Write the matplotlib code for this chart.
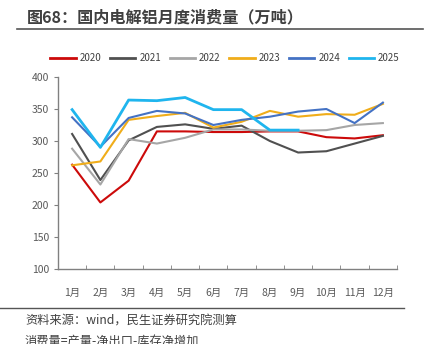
import numpy as np
import matplotlib.pyplot as plt
from matplotlib.lines import Line2D

plt.rcParams['font.family'] = ['Noto Sans CJK SC', 'DejaVu Sans']

months = ['1月', '2月', '3月', '4月', '5月', '6月', '7月', '8月', '9月', '10月', '11月', '12月']
years = ['2020', '2021', '2022', '2023', '2024', '2025']

v2020 = [263, 204, 238, 315, 315, 314, 314, 315, 315, 306, 304, 309]
v2021 = [311, 239, 301, 322, 326, 319, 324, 300, 282, 284, 296, 308]
v2022 = [288, 232, 303, 296, 305, 318, 318, 316, 316, 317, 325, 328]
v2023 = [262, 268, 333, 339, 344, 321, 330, 347, 338, 342, 341, 358]
v2024 = [337, 291, 336, 347, 343, 325, 333, 338, 346, 350, 328, 360]
v2025 = [349, 290, 364, 363, 368, 349, 349, 317, 317]

series = [v2020, v2021, v2022, v2023, v2024, v2025]
colors = ['#cc0a0a', '#505050', '#a6a6a6', '#f0ad1a', '#4472c4', '#1fb5ee']
widths = [1.5, 1.5, 1.5, 1.5, 1.5, 2.0]

fig = plt.figure(figsize=(4.41, 3.44), dpi=100)
ax = fig.add_axes([58 / 441, 1 - 269 / 344, 339 / 441, 192 / 344])

x = np.arange(12)
for vals, c, w, lab in zip(series, colors, widths, years):
    ax.plot(x[:len(vals)], vals, color=c, lw=w, label=lab, zorder=3)

ax.set_xlim(-0.5, 11.5)
ax.set_ylim(100, 400)
ax.set_yticks(np.arange(100, 401, 50))
ax.set_xticks(x)
ax.set_xticklabels(months)
ax.set_xticks(np.arange(-0.5, 12, 1), minor=True)
ax.tick_params(axis='x', which='major', length=0, pad=14, labelsize=7.5, colors='#595959')
ax.tick_params(axis='x', which='minor', length=3, direction='in', color='#808080')
ax.tick_params(axis='y', length=3, direction='out', labelsize=7.5, colors='#595959', color='#808080')
for s in ['top', 'right']:
    ax.spines[s].set_visible(False)
for s in ['left', 'bottom']:
    ax.spines[s].set_color('#808080')
    ax.spines[s].set_linewidth(1.0)

handles = [Line2D([0], [0], color=c, lw=2) for c in colors]
fig.legend(handles, years, loc='center', bbox_to_anchor=(225 / 441, 1 - 58 / 344),
           ncol=6, frameon=False, fontsize=7, handlelength=2.6, columnspacing=0.9,
           handletextpad=0.4, labelcolor='#404040')

fig.text(27 / 441, 1 - 17 / 344, '图68：国内电解铝月度消费量（万吨）', fontsize=11.6,
         fontweight='bold', color='#404040', va='center', ha='left')
fig.add_artist(Line2D([17 / 441, 423 / 441], [1 - 29 / 344, 1 - 29 / 344], color='#555555', lw=1.2))
fig.add_artist(Line2D([0, 404 / 441], [1 - 308 / 344, 1 - 308 / 344], color='#555555', lw=1.0))
fig.text(25 / 441, 1 - 321 / 344, '资料来源：wind，民生证券研究院测算', fontsize=8.8,
         color='#404040', va='center', ha='left')
fig.text(25 / 441, 1 - 341 / 344, '消费量=产量-净出口-库存净增加', fontsize=8.8,
         color='#404040', va='center', ha='left')

fig.savefig('out.png', dpi=100)
